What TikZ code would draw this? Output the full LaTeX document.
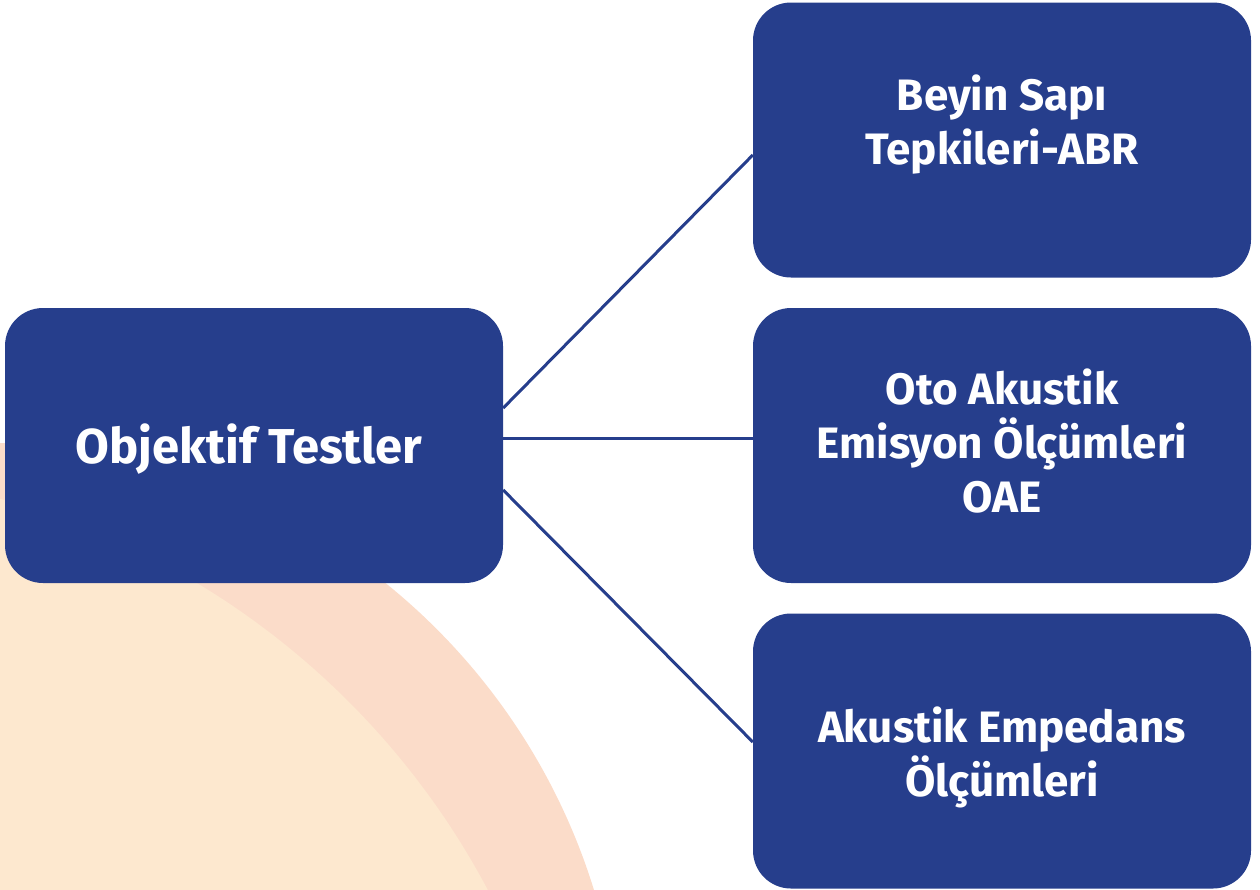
\documentclass[tikz,border=0pt]{standalone}
\usepackage{fontspec}
\setmainfont{Fira Sans}
\usetikzlibrary{positioning}
\definecolor{navy}{HTML}{263E8C}
\definecolor{peach}{HTML}{FDE8CF}
\definecolor{blush}{HTML}{FBDCC9}
\begin{document}
\begin{tikzpicture}[x=1pt,y=-1pt,
    testbox/.style={fill=navy, rounded corners=38pt, minimum width=498pt,
      minimum height=275pt, inner sep=0pt},
    testtext/.style={text=white, font=\bfseries\fontsize{44}{54}\selectfont,
      align=center, inner sep=0pt},
    link/.style={draw=navy, line width=3pt}]
  \useasboundingbox (0,0) rectangle (1260,889);
  % background arcs
  \begin{scope}
    \clip (0,0) rectangle (1260,889);
    \fill[blush] (-12,1077) circle (634);
    \fill[peach] (-208,1258) circle (787);
  \end{scope}

  % boxes
  \node[testbox] (obj) at (254,445.5) {};
  \node[testbox] (abr) at (1002,140) {};
  \node[testbox] (oae) at (1002,445.5) {};
  \node[testbox] (imp) at (1002,751) {};

  % texts
  \node[testtext, font=\bfseries\fontsize{49}{54}\selectfont]
    (obj-t) at ([xshift=-5pt,yshift=-4pt]obj.center) {Objektif Testler};
  \node[testtext] (abr-t) at ([yshift=15pt]abr.center) {Beyin Sapı\\Tepkileri-ABR};
  \node[testtext] (oae-t) at ([yshift=4pt]oae.center) {Oto Akustik\\Emisyon Ölçümleri\\OAE};
  \node[testtext] (imp-t) at ([yshift=-6pt]imp.center) {Akustik Empedans\\Ölçümleri};

  % connectors
  \draw[link] ([yshift=37.5pt]obj.east) -- ([yshift=-15pt]abr.west);
  \draw[link] ([yshift=7.5pt]obj.east) -- ([yshift=7.5pt]oae.west);
  \draw[link] ([yshift=-44.5pt]obj.east) -- ([yshift=9pt]imp.west);
\end{tikzpicture}
\end{document}
